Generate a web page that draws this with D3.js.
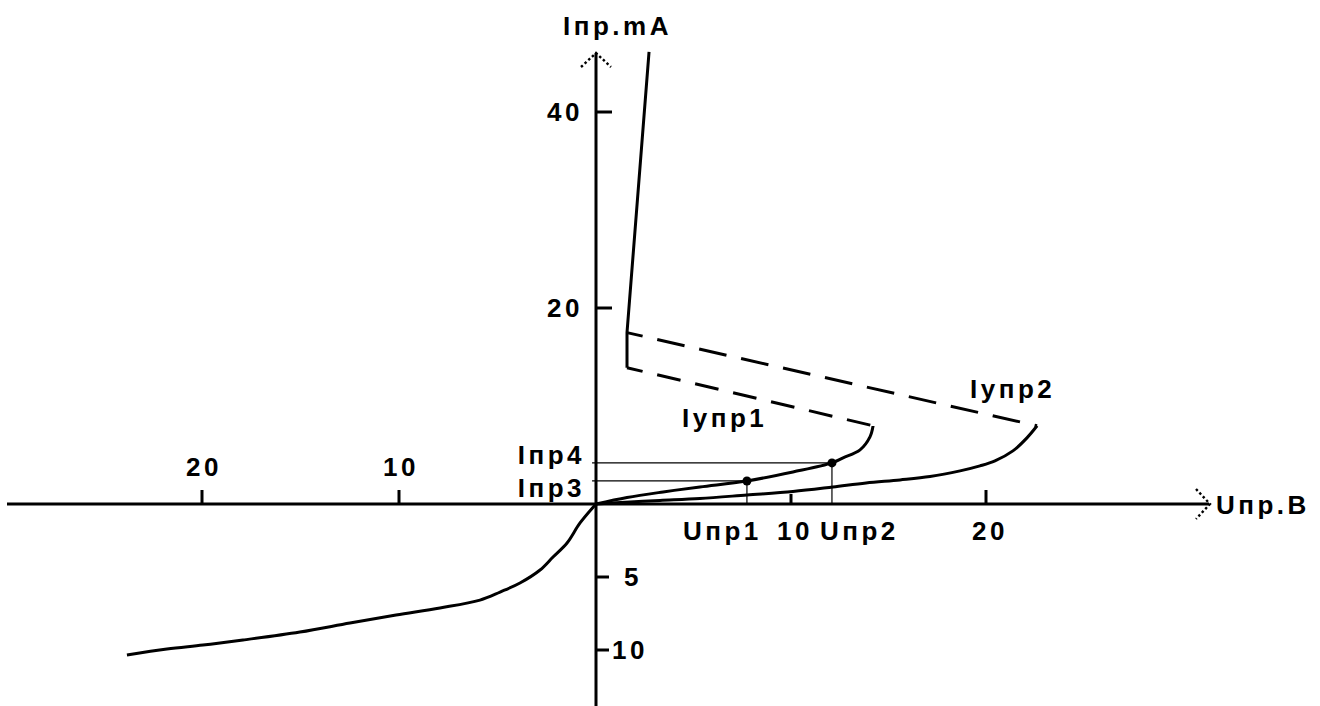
<!DOCTYPE html>
<html><head><meta charset="utf-8">
<script src="https://cdn.jsdelivr.net/npm/d3@7"></script>
<style>
html,body{margin:0;padding:0;background:#fff;}
svg{display:block;}
text{font-family:"Liberation Sans",Arial,sans-serif;font-weight:bold;font-size:26px;letter-spacing:3.5px;fill:#000;}
</style>
</head><body>
<svg id="c" width="1320" height="706"></svg>
<script>
// ---- data ----
const xTickValues = [-20, -10, 10, 20];
const xTickLabels = ["20", "10", "10", "20"];
const yTickValues = [-10, -5, 20, 40];
const yTickLabels = ["10", "5", "20", "40"];

// reverse branch (U < 0, I < 0)
const reverseU = [0, -0.81, -1.47, -2.18, -2.84, -3.86, -4.87, -5.89, -7.92, -10.15, -12.49, -15.03, -17.92, -19.95, -21.78, -23.81];
const reverseI = [0, -1.30, -2.67, -3.63, -4.52, -5.41, -6.03, -6.58, -7.12, -7.60, -8.15, -8.77, -9.32, -9.66, -9.93, -10.34];

// forward blocking branch for control current Iупр1
const curve1U = [0, 1.59, 3.44, 5.33, 7.74, 10.10, 12.10, 12.67, 13.54, 14.05, 14.21];
const curve1I = [0, 0.66, 1.23, 1.74, 2.35, 3.27, 4.19, 4.71, 5.52, 6.85, 7.98];

// forward blocking branch for control current Iупр2
const curve2U = [0, 1.74, 3.28, 5.33, 7.74, 10.10, 12.15, 13.85, 15.59, 17.13, 18.67, 19.69, 20.46, 21.38, 22.10, 22.62];
const curve2I = [0, 0.20, 0.36, 0.56, 0.92, 1.28, 1.74, 2.15, 2.46, 2.80, 3.38, 3.89, 4.40, 5.42, 6.75, 7.98];

// switching (negative resistance) dashed segments
const dash1U = [14.21, 1.59];
const dash1I = [7.98, 13.91];
const dash2U = [22.62, 1.59];
const dash2I = [7.98, 17.49];

// on-state branch
const onStateU = [1.59, 1.59, 2.72];
const onStateI = [13.91, 17.49, 46.14];

// operating points
const markerU = [7.74, 12.10];
const markerI = [2.35, 4.19];
const markerULabels = ["Uпр1", "Uпр2"];
const markerILabels = ["Iпр3", "Iпр4"];

const curveLabels = ["Iупр1", "Iупр2"];
const xAxisTitle = "Uпр.B";
const yAxisTitle = "Iпр.mA";

// ---- drawing ----
const svg = d3.select("#c");
const x = d3.scaleLinear().domain([-20, 0, 20]).range([202, 596, 986]);
const y = d3.scaleLinear().domain([-10, 0, 40]).range([650, 504, 112]);

const zip = (us, is) => us.map((u, k) => [u, is[k]]);
const line = d3.line().x(d => x(d[0])).y(d => y(d[1]));
const smooth = d3.line().x(d => x(d[0])).y(d => y(d[1])).curve(d3.curveCatmullRom.alpha(0.5));

// axes
svg.append("line").attr("x1", 7).attr("x2", 1209).attr("y1", y(0)).attr("y2", y(0))
  .attr("stroke", "#000").attr("stroke-width", 3);
svg.append("line").attr("x1", x(0)).attr("x2", x(0)).attr("y1", 53).attr("y2", 706)
  .attr("stroke", "#000").attr("stroke-width", 3);

// arrowheads (dotted chevrons)
svg.append("path").attr("d", `M${x(0)-15},67 L${x(0)},53 L${x(0)+15},67`)
  .attr("fill", "none").attr("stroke", "#000").attr("stroke-width", 2.4).attr("stroke-dasharray", "2.5,2.5");
svg.append("path").attr("d", `M1196,${y(0)-15} L1210,${y(0)} L1196,${y(0)+15}`)
  .attr("fill", "none").attr("stroke", "#000").attr("stroke-width", 2.4).attr("stroke-dasharray", "2.5,2.5");

// x ticks
const xTickLen = {"-20": 14, "-10": 14, "10": 10, "20": 14};
xTickValues.forEach((v, k) => {
  svg.append("line").attr("x1", x(v)).attr("x2", x(v)).attr("y1", y(0)).attr("y2", y(0) - xTickLen[v])
    .attr("stroke", "#000").attr("stroke-width", 3);
});
// y ticks
yTickValues.forEach((v, k) => {
  svg.append("line").attr("x1", x(0)).attr("x2", x(0) + (v > 0 ? 16 : 13)).attr("y1", y(v)).attr("y2", y(v))
    .attr("stroke", "#000").attr("stroke-width", 3);
});

// x tick labels
xTickValues.forEach((v, k) => {
  const t = svg.append("text").text(xTickLabels[k]).attr("text-anchor", "middle");
  if (v < 0) t.attr("x", x(v) + 2).attr("y", y(0) - 28);
  else t.attr("x", x(v) + 4).attr("y", y(0) + 36);
});
// y tick labels
yTickValues.forEach((v, k) => {
  const t = svg.append("text").text(yTickLabels[k]).attr("y", y(v) + 9);
  if (v > 0) t.attr("text-anchor", "end").attr("x", x(0) - 13);
  else t.attr("text-anchor", "start").attr("x", v === -5 ? x(0) + 28 : x(0) + 16);
});

// axis titles
svg.append("text").text(yAxisTitle).attr("x", 563).attr("y", 35);
svg.append("text").text(xAxisTitle).attr("x", 1216).attr("y", 514);

// thin reference lines
markerU.forEach((u, k) => {
  svg.append("line").attr("x1", x(-0.2)).attr("x2", x(u)).attr("y1", y(markerI[k])).attr("y2", y(markerI[k]))
    .attr("stroke", "#000").attr("stroke-width", 1.2);
  svg.append("line").attr("x1", x(u)).attr("x2", x(u)).attr("y1", y(markerI[k])).attr("y2", y(0))
    .attr("stroke", "#000").attr("stroke-width", 1.2);
});

// curves
const curveStyle = p => p.attr("fill", "none").attr("stroke", "#000").attr("stroke-width", 3)
  .attr("stroke-linejoin", "round");
curveStyle(svg.append("path").attr("d", smooth(zip(reverseU, reverseI))));
curveStyle(svg.append("path").attr("d", smooth(zip(curve1U, curve1I))));
curveStyle(svg.append("path").attr("d", smooth(zip(curve2U, curve2I))));
curveStyle(svg.append("path").attr("d", line(zip(onStateU, onStateI))));
curveStyle(svg.append("path").attr("d", line(zip(dash1U, dash1I).reverse())))
  .attr("stroke-dasharray", "24,15").attr("stroke-dashoffset", 8);
curveStyle(svg.append("path").attr("d", line(zip(dash2U, dash2I).reverse())))
  .attr("stroke-dasharray", "28,15").attr("stroke-dashoffset", 12);

// markers
markerU.forEach((u, k) => {
  svg.append("circle").attr("cx", x(u)).attr("cy", y(markerI[k])).attr("r", 4.5).attr("fill", "#000");
});

// marker labels
svg.append("text").text(markerULabels[0]).attr("x", 683).attr("y", y(0) + 36);
svg.append("text").text(markerULabels[1]).attr("x", 820).attr("y", y(0) + 36);
svg.append("text").text(markerILabels[0]).attr("text-anchor", "end").attr("x", 585).attr("y", y(0) - 7);
svg.append("text").text(markerILabels[1]).attr("text-anchor", "end").attr("x", 585).attr("y", y(markerI[1]) + 1);

// control current labels
svg.append("text").text(curveLabels[0]).attr("x", 682).attr("y", 427);
svg.append("text").text(curveLabels[1]).attr("x", 970).attr("y", 398);
</script>
</body></html>
